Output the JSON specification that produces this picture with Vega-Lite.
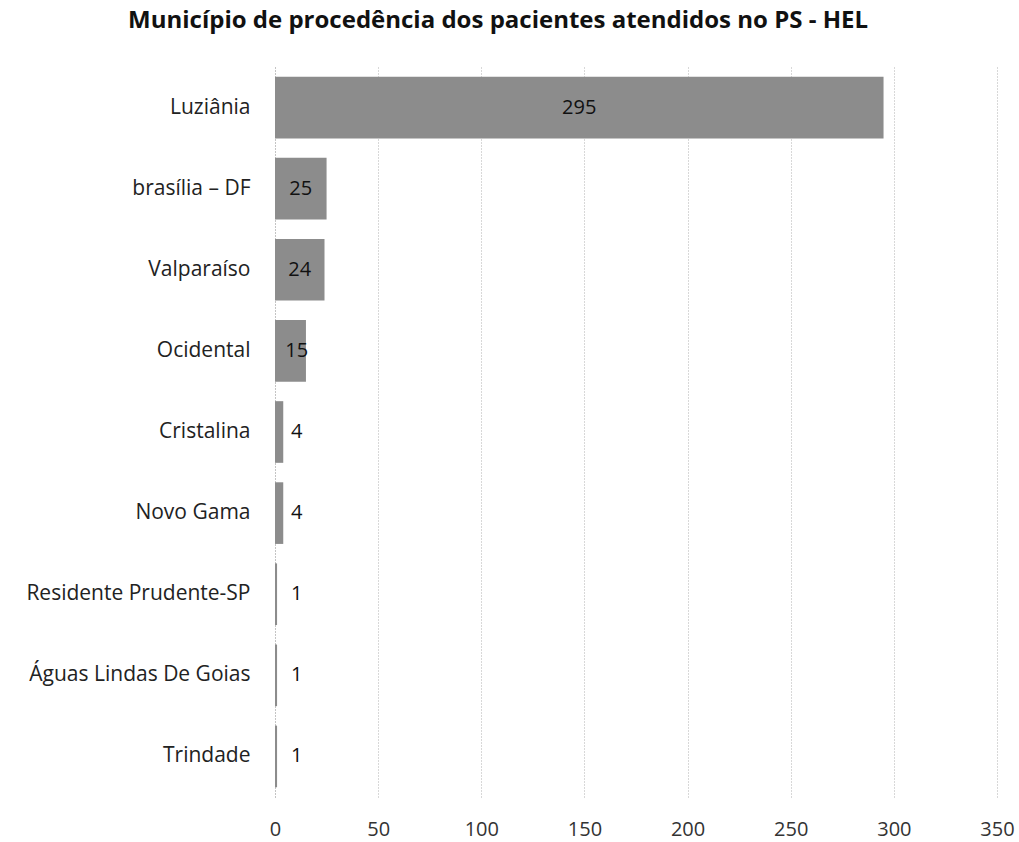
{
  "$schema": "https://vega.github.io/schema/vega-lite/v6.json",
  "autosize": "none",
  "padding": {"left": 275, "top": 67, "right": 22, "bottom": 45},
  "width": 722,
  "height": 730,
  "background": "white",
  "config": {"view": {"stroke": null}},
  "title": {
    "text": "Município de procedência dos pacientes atendidos no PS - HEL",
    "font": "Open Sans",
    "fontSize": 24,
    "fontWeight": "bold",
    "color": "#111111",
    "anchor": "middle",
    "frame": "bounds",
    "dx": -22,
    "offset": 34
  },
  "data": {
    "values": [
      {"municipio": "Luziânia", "n": 295},
      {"municipio": "brasília – DF", "n": 25},
      {"municipio": "Valparaíso", "n": 24},
      {"municipio": "Ocidental", "n": 15},
      {"municipio": "Cristalina", "n": 4},
      {"municipio": "Novo Gama", "n": 4},
      {"municipio": "Residente Prudente-SP", "n": 1},
      {"municipio": "Águas Lindas De Goias", "n": 1},
      {"municipio": "Trindade", "n": 1}
    ]
  },
  "encoding": {
    "y": {
      "field": "municipio",
      "type": "nominal",
      "sort": null,
      "scale": {"paddingInner": 0.24, "paddingOuter": 0.12},
      "axis": {
        "title": null,
        "domain": false,
        "ticks": false,
        "labelPadding": 25,
        "labelLimit": 0,
        "labelFont": "Open Sans",
        "labelFontSize": 21,
        "labelColor": "#222222",
        "grid": false
      }
    }
  },
  "layer": [
    {
      "mark": {"type": "bar", "color": "#8c8c8c"},
      "encoding": {
        "x": {
          "field": "n",
          "type": "quantitative",
          "scale": {"domain": [0, 350], "nice": false},
          "axis": {
            "title": null,
            "values": [0, 50, 100, 150, 200, 250, 300, 350],
            "domain": false,
            "ticks": false,
            "labelPadding": 22,
            "labelFlush": false,
            "labelOverlap": false,
            "labelFont": "Open Sans",
            "labelFontSize": 20,
            "labelColor": "#333333",
            "grid": true,
            "gridColor": {"condition": {"test": "datum.value === 0", "value": "#888888"}, "value": "#b0b0b0"},
            "gridDash": [1, 2],
            "gridWidth": 1
          }
        }
      }
    },
    {
      "transform": [{"calculate": "max(datum.n / 2, 10.5)", "as": "pos"}],
      "mark": {"type": "text", "font": "Open Sans", "fontSize": 20, "color": "#111111", "align": "center", "baseline": "middle"},
      "encoding": {
        "x": {"field": "pos", "type": "quantitative"},
        "text": {"field": "n", "type": "quantitative"}
      }
    }
  ]
}
